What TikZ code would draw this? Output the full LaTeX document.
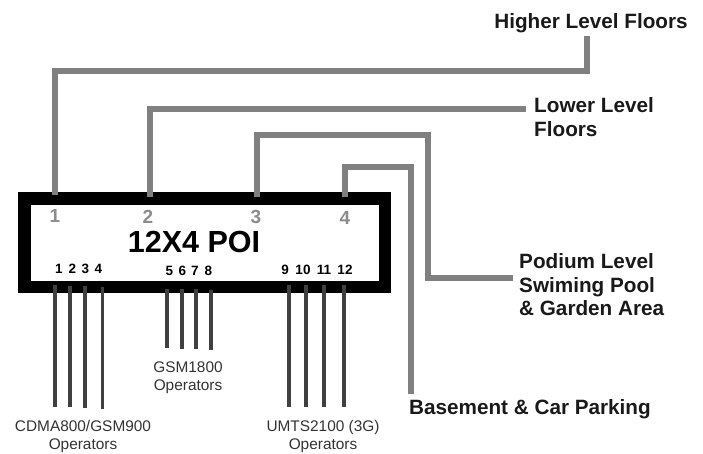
\documentclass[tikz,border=0pt]{standalone}
\usepackage{fontspec}
\setmainfont{Liberation Sans}
\begin{document}
\begin{tikzpicture}[x=1pt,y=-1pt,
  feeder/.style={draw=black!50,line width=5.8pt,line join=miter},
  port/.style={draw=black!75,line width=3.7pt},
  bold label/.style={font=\bfseries\fontsize{20.7}{23.5}\selectfont,align=left,anchor=west,inner sep=0pt,text=black!90},
  op label/.style={font=\fontsize{15.4}{18}\selectfont,align=center,inner sep=0pt,text=black!80},
  num/.style={font=\bfseries\fontsize{13.5}{16}\selectfont,inner sep=0pt},
  gnum/.style={font=\bfseries\fontsize{19}{22}\selectfont,inner sep=0pt,text=black!45}]
\useasboundingbox (0,0) rectangle (703,454);
\draw[line width=12.5pt,fill=white,miter limit=10] (24.5,198.5) rectangle (385,287);
\coordinate (a1) at (55,195); \coordinate (a2) at (150,197); \coordinate (a3) at (257,197); \coordinate (a4) at (345,197);
\node[bold label,anchor=center] (hl) at (591,23) {Higher Level Floors};
\node[bold label] (ll) at (534,117) {Lower Level\\Floors};
\node[bold label] (pl) at (519,285) {Podium Level\\Swiming Pool\\\& Garden Area};
\node[bold label] (bl) at (409,409) {Basement \& Car Parking};
\coordinate (e1) at (587,36); \coordinate (e2) at (526,109); \coordinate (e3) at (513,278); \coordinate (e4) at (411,394);
\draw[feeder] (a1) |- (e1 |- 0,71) -- (e1);
\draw[feeder] (a2) |- (e2);
\draw[feeder] (a3) |- (428,135) |- (e3);
\draw[feeder] (a4) |- (411,167) -- (e4);
\node[gnum] (g1) at (55,216) {1};
\node[gnum] (g2) at (148,217) {2};
\node[gnum] (g3) at (256,217) {3};
\node[gnum] (g4) at (345,218) {4};
\node[font=\bfseries\fontsize{30.5}{34}\selectfont,inner sep=0pt] (title) at (194,242) {12X4 POI};
\foreach \n/\x/\t/\b in {1/55/285/407,2/70/286/407,3/85/286/408,4/102.5/287/409,
  5/167/289/348,6/182/289/349,7/196/289/349,8/211/290/350,
  9/289/285/407,10/306/285/407,11/324/285/407,12/344/285/407}{
  \coordinate (top\n) at (\x,\t);
  \coordinate (bot\n) at (\x,\b);
  \draw[port] (top\n) -- (bot\n);
}
\foreach \n/\x/\y in {1/59/269,2/72.5/269,3/85.5/269,4/98.5/269,5/169.5/271,6/182.5/271,7/195/271,8/208.5/271,9/285/270,10/303/270,11/324/270,12/345/270}{
  \node[num] (n\n) at (\x,\y) {\n};
}
\node[op label] (o1) at (83,437) {CDMA800/GSM900\\Operators};
\node[op label] (o2) at (188,378) {GSM1800\\Operators};
\node[op label] (o3) at (323,437) {UMTS2100 (3G)\\Operators};
\end{tikzpicture}
\end{document}
